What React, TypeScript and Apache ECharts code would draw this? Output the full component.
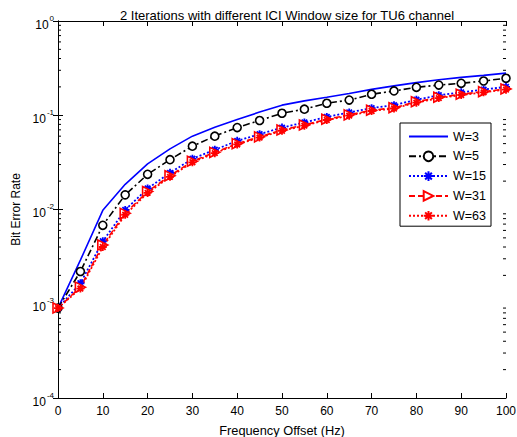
import React, { useEffect, useRef } from "react";
import * as echarts from "echarts";

const freq = [0, 5, 10, 15, 20, 25, 30, 35, 40, 45, 50, 55, 60, 65, 70, 75, 80, 85, 90, 95, 100];
const w3 = [9e-4, 2.9e-3, 9.8e-3, 0.0185, 0.0305, 0.044, 0.06, 0.0745, 0.09, 0.108, 0.128, 0.142, 0.155, 0.17, 0.188, 0.205, 0.222, 0.238, 0.252, 0.265, 0.28];
const w5 = [9e-4, 2.2e-3, 6.8e-3, 0.0143, 0.0236, 0.0338, 0.047, 0.06, 0.074, 0.088, 0.105, 0.116, 0.134, 0.145, 0.167, 0.181, 0.198, 0.209, 0.218, 0.231, 0.247];
const w15 = [9e-4, 1.65e-3, 4.6e-3, 0.0099, 0.0167, 0.0245, 0.0345, 0.043, 0.0535, 0.063, 0.074, 0.084, 0.096, 0.107, 0.119, 0.128, 0.146, 0.163, 0.175, 0.187, 0.2];
const w31 = [9e-4, 1.5e-3, 4.2e-3, 0.0091, 0.0155, 0.0228, 0.0325, 0.0404, 0.05, 0.059, 0.0698, 0.0788, 0.0906, 0.101, 0.113, 0.12, 0.139, 0.155, 0.167, 0.178, 0.19];
const w63 = [9e-4, 1.45e-3, 4.0e-3, 0.0088, 0.015, 0.0222, 0.0317, 0.0396, 0.049, 0.058, 0.0685, 0.0775, 0.089, 0.099, 0.111, 0.118, 0.136, 0.152, 0.164, 0.175, 0.187];
const seriesNames = ["W=3", "W=5", "W=15", "W=31", "W=63"];
const minorTicks: number[] = [];
[1e-4, 1e-3, 1e-2, 1e-1].forEach((d) => {
  for (let k = 2; k <= 9; k++) minorTicks.push(k * d);
});

const FONT = "Liberation Sans, Arial, sans-serif";
const asterisk = "path://M5,0L5,10M0,5L10,5M1.5,1.5L8.5,8.5M8.5,1.5L1.5,8.5";
const triRight = "path://M0,0L10,5L0,10Z";
const clear = "rgba(0,0,0,0)";

export default function App() {
  const ref = useRef<HTMLDivElement>(null);
  useEffect(() => {
    if (!ref.current) return;
    const chart = echarts.init(ref.current, undefined, { renderer: "svg" });
    const pairs = (arr: number[]) => freq.map((f, i) => [f, arr[i]]);
    const yBase = {
      type: "log" as const,
      logBase: 10,
      min: 1e-4,
      max: 1,
      splitLine: { show: false },
      axisLine: { show: true, lineStyle: { color: "#000", width: 1 } },
      axisTick: { show: true, inside: true, length: 5, lineStyle: { color: "#000" } },
    };
    const xBase = {
      type: "value" as const,
      min: 0,
      max: 100,
      interval: 10,
      splitLine: { show: false },
      axisLine: { show: true, lineStyle: { color: "#000", width: 1 } },
      axisTick: { show: true, inside: true, length: 5, lineStyle: { color: "#000" } },
    };
    chart.setOption({
      animation: false,
      backgroundColor: "#fff",
      textStyle: { fontFamily: FONT },
      title: {
        text: "2 Iterations with different ICI Window size for TU6 channel",
        left: 282,
        top: 4,
        textAlign: "center",
        textStyle: { fontSize: 13, fontWeight: "normal", color: "#000", fontFamily: FONT },
      },
      grid: {
        left: 58,
        top: 21,
        right: 11,
        bottom: 39,
        containLabel: false,
        outerBoundsMode: "none",
      },
      legend: {
        data: [
          { name: "W=3", itemStyle: { color: clear, borderColor: clear, opacity: 0 } },
          "W=5",
          "W=15",
          "W=31",
          "W=63",
        ],
        orient: "vertical",
        left: 400,
        top: 123,
        itemWidth: 39,
        itemHeight: 12,
        itemGap: 6.8,
        padding: [7, 5, 4, 8],
        borderColor: "#000",
        borderWidth: 1,
        backgroundColor: "#fff",
        borderRadius: 0,
        textStyle: { fontSize: 12.5, color: "#000", fontFamily: FONT },
      },
      xAxis: [
        {
          ...xBase,
          position: "bottom",
          name: "Frequency Offset (Hz)",
          nameLocation: "middle",
          nameGap: 26,
          nameTextStyle: { fontSize: 12.8, color: "#000", fontFamily: FONT },
          axisLabel: { color: "#000", fontSize: 12, margin: 7, fontFamily: FONT },
        },
        { ...xBase, position: "top", axisLabel: { show: false } },
      ],
      yAxis: [
        {
          ...yBase,
          position: "left",
          name: "Bit Error Rate",
          nameLocation: "middle",
          nameGap: 36,
          nameRotate: 90,
          nameTextStyle: { fontSize: 12, color: "#000", fontFamily: FONT },
          axisLabel: {
            margin: 4,
            formatter: (v: number) => `{b|10}{s|${Math.round(Math.log10(v))}}`,
            rich: {
              b: { fontSize: 12, color: "#000", fontFamily: FONT, padding: [7, 0, 0, 0] },
              s: { fontSize: 8, color: "#000", fontFamily: FONT, padding: [0, 0, 6, 1] },
            },
          },
        },
        { ...yBase, position: "right", axisLabel: { show: false } },
      ],
      series: [
        {
          name: seriesNames[0],
          type: "line",
          data: pairs(w3),
          symbol: "none",
          lineStyle: { color: "#0000ff", width: 1.6, type: "solid" },
          itemStyle: { color: "#0000ff", borderColor: "#0000ff" },
        },
        {
          name: seriesNames[1],
          type: "line",
          data: pairs(w5),
          symbol: "circle",
          symbolSize: 8,
          lineStyle: { color: "#000", width: 1.6, type: [7, 3, 2, 3] },
          itemStyle: { color: "#fff", borderColor: "#000", borderWidth: 1.6 },
        },
        {
          name: seriesNames[2],
          type: "line",
          data: pairs(w15),
          symbol: asterisk,
          symbolSize: 8,
          lineStyle: { color: "#0000ff", width: 1.8, type: [2, 2] },
          itemStyle: { color: "#0000ff", borderColor: "#0000ff", borderWidth: 1.8 },
        },
        {
          name: seriesNames[3],
          type: "line",
          data: pairs(w31),
          symbol: triRight,
          symbolSize: 10,
          lineStyle: { color: "#ff0000", width: 1.6, type: [6, 3] },
          itemStyle: { color: "#fff", borderColor: "#ff0000", borderWidth: 1.6 },
        },
        {
          name: seriesNames[4],
          type: "line",
          data: pairs(w63),
          symbol: asterisk,
          symbolSize: 8,
          lineStyle: { color: "#ff0000", width: 1.8, type: [2, 2] },
          itemStyle: { color: "#ff0000", borderColor: "#ff0000", borderWidth: 1.8 },
        },
        {
          type: "custom",
          silent: true,
          data: minorTicks.map((v) => [0, v]),
          encode: { x: 0, y: 1 },
          renderItem: (_p: any, api: any) => {
            const v = api.value(1);
            const a = api.coord([0, v]);
            const b = api.coord([100, v]);
            const st = { stroke: "#000", lineWidth: 1 };
            return {
              type: "group",
              children: [
                { type: "line", shape: { x1: a[0], y1: a[1], x2: a[0] + 3, y2: a[1] }, style: st },
                { type: "line", shape: { x1: b[0], y1: b[1], x2: b[0] - 3, y2: b[1] }, style: st },
              ],
            };
          },
        },
      ],
    });
    return () => chart.dispose();
  }, []);
  return <div ref={ref} style={{ width: 517, height: 437, position: "absolute", left: 0, top: 0 }} />;
}
